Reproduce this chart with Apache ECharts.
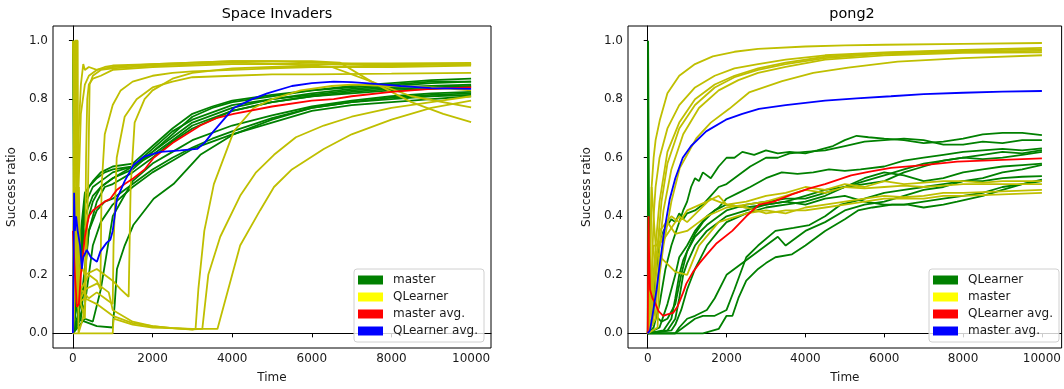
<!DOCTYPE html>
<html>
<head>
<meta charset="utf-8">
<script src="https://cdn.jsdelivr.net/npm/echarts@6/dist/echarts.min.js"></script>
<style>
  html, body { margin: 0; padding: 0; background: #fff; }
  #chart { width: 1064px; height: 389px; }
</style>
</head>
<body>
<div id="chart"></div>
<script>
// tick labels
var xTicks = [0, 2000, 4000, 6000, 8000, 10000];
var yTicks = [0, 0.2, 0.4, 0.6, 0.8, 1.0];

// ---- Space Invaders ----
// master runs (green)
var siMaster = [
  [[0,1.0],[20,1.0],[30,0.3],[80,0.1],[150,0.05],[200,0.3],[300,0.45],[400,0.5],[600,0.53],[800,0.55],[1000,0.56],[1500,0.57],[2000,0.62],[2500,0.68],[3000,0.74],[3500,0.77],[4000,0.79],[5000,0.81],[6000,0.83],[7000,0.84],[8000,0.85],[9000,0.86],[10000,0.86]],
  [[0,0],[50,0.3],[100,0.2],[200,0.35],[300,0.48],[500,0.52],[700,0.55],[1000,0.57],[1500,0.58],[2000,0.64],[2500,0.7],[3000,0.75],[3500,0.775],[4000,0.795],[5000,0.815],[6000,0.83],[7000,0.845],[8000,0.855],[9000,0.865],[10000,0.87]],
  [[0,0],[100,0.15],[200,0.3],[300,0.44],[500,0.5],[700,0.52],[1000,0.55],[1500,0.57],[2000,0.63],[2500,0.69],[3000,0.73],[4000,0.78],[5000,0.8],[6000,0.82],[7000,0.835],[8000,0.845],[9000,0.855],[10000,0.86]],
  [[0,0],[100,0.1],[300,0.4],[500,0.47],[700,0.5],[1000,0.53],[1500,0.56],[2000,0.62],[2500,0.67],[3000,0.72],[4000,0.77],[5000,0.8],[6000,0.815],[7000,0.83],[8000,0.84],[9000,0.845],[10000,0.85]],
  [[0,0],[150,0.2],[300,0.35],[500,0.45],[700,0.5],[1000,0.53],[1500,0.57],[2000,0.61],[2500,0.66],[3000,0.71],[4000,0.76],[5000,0.79],[6000,0.81],[7000,0.825],[8000,0.835],[9000,0.84],[10000,0.845]],
  [[0,0],[200,0.1],[400,0.35],[600,0.45],[800,0.5],[1000,0.51],[1500,0.55],[2000,0.6],[2500,0.655],[3000,0.7],[4000,0.76],[5000,0.79],[6000,0.81],[7000,0.82],[8000,0.83],[9000,0.835],[10000,0.84]],
  [[0,0],[200,0.05],[300,0.2],[400,0.35],[600,0.42],[800,0.45],[1000,0.46],[1500,0.51],[2000,0.56],[2500,0.6],[3000,0.635],[3500,0.665],[4000,0.69],[5000,0.735],[6000,0.77],[7000,0.79],[8000,0.8],[9000,0.81],[10000,0.815]],
  [[0,0],[300,0.1],[500,0.3],[700,0.38],[1000,0.44],[1500,0.5],[2000,0.55],[2500,0.59],[3000,0.63],[4000,0.68],[5000,0.72],[6000,0.76],[7000,0.78],[8000,0.79],[9000,0.8],[10000,0.81]],
  [[0,0],[300,0.05],[500,0.04],[700,0.15],[1000,0.4],[1500,0.52],[2000,0.58],[2500,0.62],[3000,0.66],[4000,0.71],[5000,0.745],[6000,0.775],[7000,0.795],[8000,0.81],[9000,0.82],[10000,0.825]],
  [[0,0],[100,0.05],[300,0.04],[600,0.025],[1000,0.02],[1050,0.1],[1106,0.22],[1300,0.3],[1517,0.37],[2027,0.46],[2525,0.51],[3200,0.61],[4037,0.68],[5000,0.73],[6000,0.77],[7000,0.79],[8000,0.805],[9000,0.815],[10000,0.82]]
];
// QLearner runs (yellow)
var siQLearner = [
  [[0,0],[30,1.0],[80,1.0],[100,0.5],[150,0.7],[200,0.85],[260,0.92],[300,0.9],[400,0.91],[600,0.9],[800,0.905],[1000,0.91],[1500,0.915],[2000,0.92],[3000,0.925],[4000,0.93],[5000,0.93],[6000,0.925],[7000,0.922],[8000,0.922],[9000,0.923],[10000,0.924]],
  [[0,1.0],[50,1.0],[70,0.2],[120,0.4],[200,0.75],[300,0.85],[400,0.88],[600,0.9],[800,0.91],[1000,0.915],[2000,0.92],[3000,0.925],[4000,0.93],[5000,0.93],[6000,0.93],[6700,0.925],[7500,0.86],[8500,0.79],[9300,0.75],[10000,0.722]],
  [[0,0],[60,1.0],[120,1.0],[140,0.0],[250,0.05],[300,0.1],[330,0.6],[360,0.8],[400,0.85],[500,0.87],[700,0.88],[1000,0.9],[2000,0.91],[3000,0.915],[4000,0.92],[5000,0.92],[6000,0.915],[6500,0.91],[7500,0.86],[8500,0.81],[10000,0.772]],
  [[0,0],[150,0.5],[200,0.1],[300,0.05],[380,0.5],[420,0.85],[500,0.88],[700,0.9],[1000,0.905],[2000,0.915],[3000,0.92],[4000,0.925],[6000,0.92],[8000,0.92],[10000,0.92]],
  [[0,0],[60,1.0],[100,1.0],[110,0.2],[200,0.15],[400,0.2],[600,0.18],[690,0.15],[720,0.5],[800,0.68],[1000,0.78],[1200,0.83],[1500,0.86],[2000,0.88],[2500,0.89],[3000,0.895],[4000,0.9],[5000,0.905],[6000,0.91],[8000,0.91],[10000,0.915]],
  [[0,0],[100,0.3],[200,0.15],[400,0.12],[600,0.14],[800,0.12],[1000,0.1],[1020,0.3],[1100,0.6],[1300,0.74],[1600,0.8],[2000,0.84],[2500,0.86],[3000,0.875],[4000,0.88],[5000,0.885],[6000,0.885],[8000,0.887],[10000,0.89]],
  [[0,0],[80,0.5],[150,0.25],[300,0.2],[600,0.22],[1000,0.18],[1200,0.15],[1400,0.125],[1450,0.5],[1550,0.72],[1800,0.8],[2000,0.83],[2500,0.87],[3000,0.89],[4000,0.905],[5000,0.91],[6000,0.91],[8000,0.915],[10000,0.92]],
  [[0,0],[100,1.0],[130,0.1],[300,0.15],[600,0.17],[900,0.14],[1000,0.08],[1500,0.04],[2000,0.025],[2500,0.018],[3000,0.013],[3080,0.015],[3150,0.15],[3300,0.35],[3540,0.51],[4040,0.69],[4540,0.77],[5000,0.8],[5720,0.83],[6500,0.845],[7000,0.85],[8000,0.845],[9000,0.84],[10000,0.83]],
  [[0,0],[50,0.5],[100,0.1],[300,0.12],[600,0.1],[1000,0.06],[1500,0.035],[2000,0.025],[2500,0.018],[3000,0.014],[3250,0.015],[3400,0.2],[3700,0.33],[4200,0.47],[4600,0.55],[5050,0.61],[5600,0.67],[6300,0.71],[7000,0.74],[8000,0.77],[9000,0.79],[10000,0.81]],
  [[0,0],[150,0],[600,0],[1000,0],[1020,0.05],[1500,0.03],[2000,0.02],[3000,0.015],[3630,0.015],[3700,0.05],[4000,0.2],[4200,0.3],[4700,0.42],[5050,0.5],[5500,0.56],[6300,0.63],[7000,0.68],[8000,0.73],[9000,0.77],[10000,0.795]]
];
var siMasterAvg = [[0,0.35],[50,0.2],[100,0.09],[150,0.1],[200,0.2],[300,0.33],[400,0.4],[500,0.42],[600,0.43],[800,0.45],[940,0.46],[1100,0.49],[1300,0.51],[1520,0.53],[1800,0.56],[2030,0.6],[2500,0.65],[3200,0.71],[3600,0.735],[4040,0.75],[5000,0.775],[6000,0.795],[6550,0.8],[7000,0.81],[8000,0.825],[9000,0.835],[10000,0.84]];
var siQLearnerAvg = [[0,0],[30,0.48],[50,0.35],[80,0.4],[120,0.35],[180,0.3],[225,0.22],[260,0.26],[350,0.285],[450,0.26],[604,0.245],[690,0.28],[850,0.31],[940,0.32],[1000,0.35],[1107,0.46],[1300,0.52],[1520,0.575],[1800,0.605],[2200,0.62],[2700,0.625],[3120,0.63],[3300,0.65],[3530,0.69],[4040,0.77],[4500,0.8],[4880,0.82],[5500,0.845],[6000,0.855],[6550,0.86],[7000,0.858],[7600,0.852],[8230,0.845],[9000,0.838],[10000,0.835]];

// ---- pong2 ----
// QLearner runs (green)
var pgQLearner = [
  [[0,0],[150,0.02],[300,0.1],[450,0.22],[600,0.3],[750,0.36],[900,0.42],[1000,0.45],[1100,0.5],[1200,0.53],[1300,0.52],[1400,0.55],[1600,0.53],[1800,0.57],[2000,0.6],[2200,0.6],[2400,0.62],[2700,0.61],[3000,0.625],[3300,0.615],[3600,0.62],[4000,0.615],[4300,0.625],[4700,0.64],[5000,0.66],[5300,0.675],[5600,0.67],[6000,0.665],[6500,0.66],[7000,0.65],[7500,0.655],[8000,0.665],[8500,0.68],[9000,0.685],[9500,0.685],[10000,0.677]],
  [[0,0],[100,0.05],[200,0.2],[300,0.3],[400,0.35],[500,0.37],[600,0.39],[700,0.38],[800,0.41],[900,0.39],[1000,0.41],[1200,0.42],[1400,0.44],[1600,0.47],[1800,0.5],[2000,0.51],[2300,0.54],[2600,0.57],[3000,0.6],[3300,0.6],[3600,0.615],[4000,0.62],[4500,0.625],[5000,0.64],[5500,0.655],[6000,0.66],[6500,0.665],[7000,0.66],[7500,0.645],[8000,0.645],[8500,0.655],[9000,0.65],[9500,0.66],[10000,0.66]],
  [[0,0],[300,0.02],[500,0.1],[700,0.2],[800,0.26],[1000,0.3],[1200,0.35],[1500,0.4],[1800,0.43],[2000,0.46],[2300,0.48],[2600,0.5],[3000,0.53],[3400,0.55],[3800,0.545],[4200,0.55],[4600,0.56],[5000,0.555],[5400,0.56],[6000,0.57],[6500,0.59],[7000,0.6],[7500,0.61],[8000,0.62],[8500,0.625],[9000,0.63],[9500,0.625],[10000,0.632]],
  [[0,0],[400,0.01],[600,0.05],[700,0.12],[800,0.2],[900,0.25],[1000,0.28],[1200,0.33],[1500,0.37],[1800,0.4],[2000,0.42],[2500,0.44],[3000,0.45],[3500,0.46],[4000,0.46],[4500,0.48],[5000,0.5],[5500,0.52],[6000,0.54],[6500,0.56],[7000,0.58],[7500,0.59],[8000,0.6],[8500,0.61],[9000,0.62],[9500,0.615],[10000,0.626]],
  [[0,0],[500,0.01],[700,0.05],[800,0.12],[900,0.2],[1000,0.24],[1200,0.3],[1500,0.35],[1800,0.38],[2000,0.4],[2500,0.42],[3000,0.44],[3500,0.45],[4000,0.47],[4500,0.49],[5000,0.5],[5500,0.51],[6000,0.52],[6500,0.55],[7000,0.57],[7500,0.59],[8000,0.6],[8500,0.595],[9000,0.6],[9500,0.61],[10000,0.62]],
  [[0,0],[600,0.01],[700,0.03],[850,0.08],[1000,0.15],[1200,0.22],[1500,0.3],[1800,0.35],[2000,0.38],[2500,0.41],[3000,0.43],[3500,0.44],[4000,0.45],[4500,0.47],[5000,0.5],[5500,0.53],[6000,0.55],[6500,0.54],[7000,0.52],[7500,0.53],[8000,0.55],[8500,0.56],[9000,0.57],[9500,0.575],[10000,0.58]],
  [[0,0],[700,0],[800,0.02],[1000,0.05],[1200,0.06],[1500,0.08],[1700,0.12],[2000,0.2],[2300,0.23],[2600,0.26],[3000,0.3],[3300,0.33],[3500,0.3],[3800,0.33],[4000,0.35],[4500,0.38],[5000,0.42],[5500,0.44],[6000,0.45],[6500,0.47],[7000,0.49],[7500,0.5],[8000,0.52],[8500,0.53],[9000,0.55],[9500,0.56],[10000,0.576]],
  [[0,0],[400,0],[1400,0],[1800,0.015],[2000,0.06],[2150,0.06],[2300,0.12],[2500,0.18],[2800,0.22],[3000,0.24],[3240,0.26],[3660,0.27],[4000,0.3],[4500,0.35],[5000,0.39],[5335,0.42],[5700,0.43],[6200,0.44],[6600,0.44],[7000,0.43],[7500,0.44],[7850,0.45],[8500,0.47],[9000,0.49],[9500,0.51],[10000,0.525]],
  [[0,0],[700,0],[900,0.02],[1200,0.05],[1400,0.06],[1700,0.06],[2000,0.08],[2200,0.15],[2500,0.26],[2800,0.3],[3240,0.35],[3700,0.36],[4100,0.37],[4500,0.4],[4900,0.44],[5500,0.46],[6000,0.48],[6500,0.49],[7000,0.5],[7500,0.51],[8000,0.52],[8500,0.52],[9000,0.53],[9500,0.535],[10000,0.537]],
  [[0,0],[10,1.0],[30,1.0],[40,0.25],[100,0.12],[200,0.06],[350,0.04],[500,0.05],[700,0.1],[850,0.2],[1000,0.28],[1200,0.34],[1400,0.38],[1700,0.42],[2000,0.44],[2500,0.43],[3000,0.44],[3500,0.45],[4000,0.44],[4500,0.46],[5000,0.47],[5500,0.45],[6000,0.44],[6500,0.44],[7000,0.45],[7500,0.46],[8000,0.47],[8500,0.48],[9000,0.5],[9500,0.51],[10000,0.52]]
];
// master runs (yellow)
var pgMaster = [
  [[0,0],[50,0.1],[100,0.5],[150,0.6],[200,0.66],[310,0.73],[500,0.82],[800,0.88],[1200,0.92],[1650,0.946],[2200,0.962],[2800,0.972],[4000,0.98],[5000,0.984],[6000,0.986],[8000,0.989],[10000,0.992]],
  [[0,0],[80,0.1],[150,0.4],[200,0.5],[300,0.6],[500,0.7],[800,0.78],[1200,0.84],[1700,0.88],[2200,0.905],[2800,0.92],[3500,0.935],[4500,0.95],[6000,0.96],[8000,0.968],[10000,0.975]],
  [[0,0],[100,0.05],[200,0.3],[300,0.45],[500,0.62],[800,0.72],[1200,0.8],[1700,0.85],[2200,0.88],[2800,0.905],[3500,0.925],[4500,0.945],[6000,0.958],[8000,0.966],[10000,0.97]],
  [[0,0],[150,0.05],[250,0.3],[350,0.45],[500,0.58],[800,0.7],[1200,0.78],[1700,0.84],[2200,0.875],[2800,0.9],[3500,0.92],[4500,0.94],[6000,0.955],[8000,0.962],[10000,0.965]],
  [[0,0],[200,0.05],[300,0.3],[400,0.42],[600,0.56],[900,0.68],[1300,0.77],[1800,0.83],[2300,0.865],[2800,0.89],[3500,0.91],[4500,0.935],[6000,0.95],[8000,0.958],[10000,0.96]],
  [[0,0],[250,0.02],[300,0.2],[400,0.3],[600,0.45],[812,0.565],[1231,0.666],[1600,0.72],[2068,0.767],[2571,0.823],[3410,0.862],[4200,0.89],[5084,0.908],[6340,0.928],[8000,0.94],[10000,0.95]],
  [[0,0],[100,0.5],[200,0.3],[400,0.32],[600,0.36],[800,0.4],[1000,0.38],[1300,0.42],[1600,0.46],[2000,0.44],[2500,0.45],[3000,0.47],[3500,0.48],[4000,0.5],[4500,0.49],[5000,0.51],[5500,0.5],[6000,0.52],[6500,0.51],[7000,0.515],[7500,0.52],[8000,0.52],[8500,0.515],[9000,0.52],[9500,0.52],[10000,0.52]],
  [[0,0],[150,0.3],[300,0.3],[500,0.38],[700,0.34],[1000,0.35],[1300,0.38],[1500,0.4],[2000,0.43],[2500,0.44],[3000,0.45],[3500,0.47],[4000,0.49],[4500,0.48],[5000,0.5],[5500,0.495],[6000,0.5],[6500,0.505],[7000,0.5],[7500,0.505],[8000,0.51],[9000,0.51],[10000,0.51]],
  [[0,0],[200,0.28],[400,0.25],[700,0.21],[1000,0.2],[1300,0.3],[1800,0.38],[2500,0.41],[3000,0.42],[3500,0.41],[4000,0.43],[4500,0.44],[5000,0.45],[5500,0.46],[6000,0.47],[6500,0.465],[7000,0.47],[7500,0.48],[8000,0.48],[9000,0.485],[10000,0.49]],
  [[0,0],[300,0.35],[600,0.4],[800,0.38],[1000,0.42],[1500,0.45],[1800,0.47],[2000,0.44],[2500,0.43],[3000,0.41],[3500,0.42],[4000,0.42],[4500,0.43],[5000,0.44],[5500,0.45],[6000,0.46],[6500,0.46],[7000,0.46],[7500,0.47],[8000,0.47],[9000,0.475],[10000,0.48]]
];
var pgQLearnerAvg = [[0,0],[20,0.4],[30,0.3],[58,0.15],[120,0.12],[183,0.105],[280,0.075],[393,0.06],[500,0.065],[644,0.07],[750,0.09],[812,0.11],[900,0.14],[980,0.17],[1150,0.21],[1314,0.24],[1500,0.27],[1734,0.306],[2145,0.35],[2500,0.4],[2822,0.44],[3200,0.45],[3660,0.475],[4100,0.495],[4498,0.51],[5160,0.54],[5600,0.552],[6170,0.565],[7000,0.575],[7850,0.587],[9000,0.593],[10000,0.598]];
var pgMasterAvg = [[0,0],[58,0.01],[120,0.06],[226,0.15],[310,0.24],[420,0.35],[561,0.46],[700,0.53],[889,0.6],[1100,0.64],[1482,0.69],[1985,0.73],[2400,0.75],[2822,0.767],[3500,0.78],[4498,0.795],[5300,0.803],[6170,0.81],[7000,0.817],[8000,0.822],[9000,0.826],[10000,0.828]];

var GREEN = "#008000", YELLOW = "#bfbf00", RED = "#ff0000", BLUE = "#0000ff";

var chart = echarts.init(document.getElementById("chart"));

function lineSeries(name, data, color, idx, z) {
  return {
    name: name,
    type: "line",
    data: data,
    xAxisIndex: idx,
    yAxisIndex: idx,
    showSymbol: false,
    symbol: "none",
    z: z,
    lineStyle: { color: color, width: 1.8 },
    itemStyle: { color: color },
    emphasis: { disabled: true }
  };
}

var series = [];
siMaster.forEach(function (d) { series.push(lineSeries("master", d, GREEN, 0, 2)); });
siQLearner.forEach(function (d) { series.push(lineSeries("QLearner", d, YELLOW, 0, 3)); });
series.push(lineSeries("master avg.", siMasterAvg, RED, 0, 4));
series.push(lineSeries("QLearner avg.", siQLearnerAvg, BLUE, 0, 5));
pgQLearner.forEach(function (d) { series.push(lineSeries("QLearner", d, GREEN, 1, 2)); });
pgMaster.forEach(function (d) { series.push(lineSeries("master", d, YELLOW, 1, 3)); });
series.push(lineSeries("QLearner avg.", pgQLearnerAvg, RED, 1, 4));
series.push(lineSeries("master avg.", pgMasterAvg, BLUE, 1, 5));

var font = "DejaVu Sans";
var txt = "#1a1a1a";

function xAxisOf(idx) {
  return {
    type: "value",
    gridIndex: idx,
    min: -500,
    max: 10500,
    name: "Time",
    nameLocation: "middle",
    nameGap: 24,
    nameTextStyle: { fontFamily: font, fontSize: 12, color: txt },
    splitLine: { show: false },
    axisLine: { show: true, lineStyle: { color: "#000", width: 1 } },
    axisTick: { show: true, length: 4, customValues: xTicks, lineStyle: { color: "#000" } },
    axisLabel: {
      customValues: xTicks, fontFamily: font, fontSize: 12, color: txt, margin: 5,
      formatter: function (v) { return String(v); }
    }
  };
}
function yAxisOf(idx) {
  return {
    type: "value",
    gridIndex: idx,
    min: -0.05,
    max: 1.05,
    name: "Success ratio",
    nameLocation: "middle",
    nameGap: 35,
    nameTextStyle: { fontFamily: font, fontSize: 12, color: txt },
    splitLine: { show: false },
    axisLine: { show: true, lineStyle: { color: "#000", width: 1 } },
    axisTick: { show: true, length: 4, customValues: yTicks, lineStyle: { color: "#000" } },
    axisLabel: {
      customValues: yTicks, fontFamily: font, fontSize: 12, color: txt, margin: 5,
      formatter: function (v) { return v.toFixed(1); }
    }
  };
}
function legendOf(left, names, colors) {
  return {
    orient: "vertical",
    left: left,
    top: 269,
    icon: "rect",
    itemWidth: 25,
    itemHeight: 9,
    itemGap: 5,
    padding: [5, 6, 5, 4],
    borderColor: "#d0d0d0",
    borderWidth: 1,
    borderRadius: 3,
    backgroundColor: "rgba(255,255,255,0.8)",
    textStyle: { fontFamily: font, fontSize: 12, color: txt, padding: [0, 0, 0, 5] },
    selectedMode: false,
    data: names.map(function (n, i) {
      return { name: n, itemStyle: { color: colors[i], borderWidth: 0 } };
    })
  };
}

chart.setOption({
  animation: false,
  backgroundColor: "#fff",
  title: [
    { text: "Space Invaders", left: 272, top: 2, textAlign: "center",
      textStyle: { fontFamily: font, fontSize: 14.4, fontWeight: "normal", color: "#000" } },
    { text: "pong2", left: 847, top: 2, textAlign: "center",
      textStyle: { fontFamily: font, fontSize: 14.4, fontWeight: "normal", color: "#000" } }
  ],
  grid: [
    { left: 53, top: 26, width: 438, height: 326, show: true, borderColor: "#000", borderWidth: 1, backgroundColor: "transparent" },
    { left: 628, top: 26, width: 438, height: 326, show: true, borderColor: "#000", borderWidth: 1, backgroundColor: "transparent" }
  ],
  xAxis: [xAxisOf(0), xAxisOf(1)],
  yAxis: [yAxisOf(0), yAxisOf(1)],
  legend: [
    legendOf(354, ["master", "QLearner", "master avg.", "QLearner avg."], [GREEN, "#ffff00", RED, BLUE]),
    legendOf(929, ["QLearner", "master", "QLearner avg.", "master avg."], [GREEN, "#ffff00", RED, BLUE])
  ],
  series: series
});
</script>
</body>
</html>
